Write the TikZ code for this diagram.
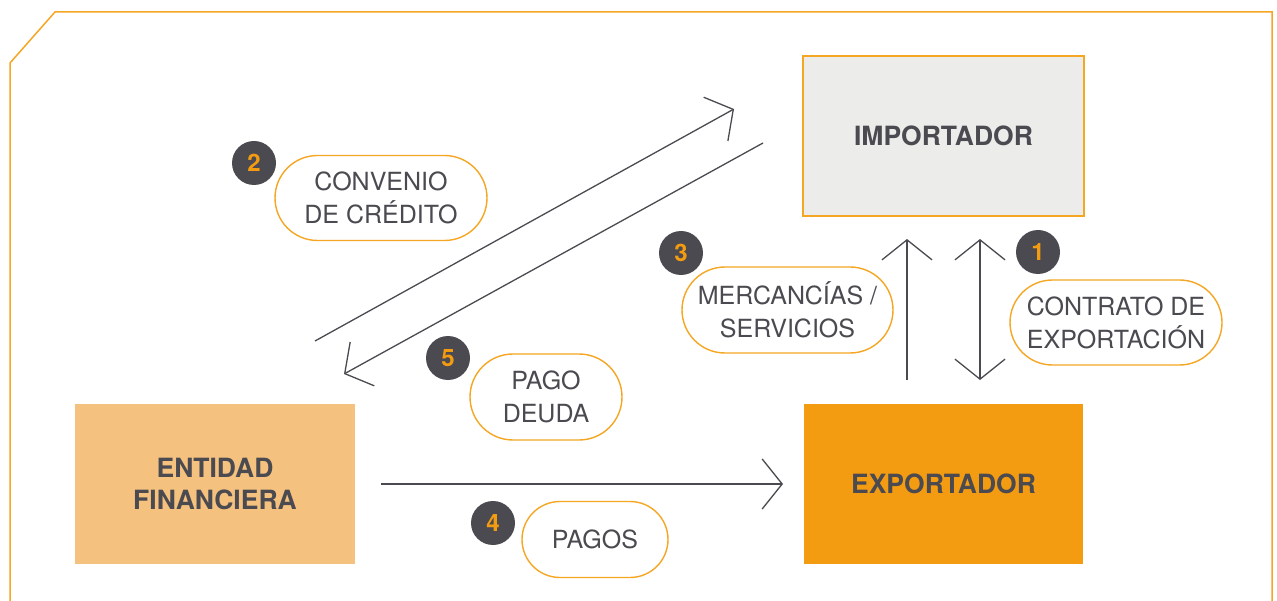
\documentclass[tikz,border=0pt]{standalone}
\usepackage{fontspec}
\setmainfont{TeX Gyre Heros}
\usetikzlibrary{arrows.meta, shapes.misc}
\definecolor{Orange}{HTML}{F39C12}
\definecolor{LOrange}{HTML}{F4C27E}
\definecolor{LGray}{HTML}{ECECEA}
\definecolor{DGray}{HTML}{4A4A50}
\definecolor{Frame}{HTML}{F5A623}
\NewDocumentCommand{\Badge}{O{(0,0)} m m}{
    \node[badge] (#2) at #1 {#3};
}
\NewDocumentCommand{\Pill}{O{(0,0)} m m m m}{
    \node[pill, minimum width=#3, minimum height=#4] (#2) at #1 {#5};
}

\begin{document}
\begin{tikzpicture}[x=1pt, y=-1pt,
    box/.style={draw=none, minimum width=280pt, minimum height=160pt, inner sep=0pt,
        align=center, text=DGray, font=\fontsize{26.5}{32}\selectfont\bfseries},
    pill/.style={draw=Frame, line width=1.4pt, fill=white, rounded rectangle, inner sep=0pt,
        align=center, text=DGray, font=\fontsize{25}{33}\selectfont},
    badge/.style={circle, fill=DGray, minimum size=44pt, inner sep=0pt,
        text=Orange, font=\fontsize{24}{24}\selectfont\bfseries},
    flow/.style={DGray, line width=1.3pt, -{Straight Barb[length=20pt, width=50pt]}},
    twoway/.style={DGray, line width=1.3pt,
        {Straight Barb[length=20pt, width=50pt]}-{Straight Barb[length=20pt, width=50pt]}}]
\useasboundingbox (0,0) rectangle (1277,601);

\draw[Frame, line width=1.5pt] (10,601) -- (10,63) -- (55,12) -- (1272,12) -- (1272,601);

\node[box, fill=LGray, draw=Frame, line width=1.5pt, minimum width=281pt] (importador) at (943.5,136) {IMPORTADOR};
\node[box, fill=Orange, minimum width=279pt] (exportador) at (943.5,484) {EXPORTADOR};
\node[box, fill=LOrange] (entidad) at (215,484) {ENTIDAD\\FINANCIERA};

\coordinate (credito-tail) at (315,341);
\coordinate (credito-tip) at (734,109);
\coordinate (deuda-tail) at (763,143);
\coordinate (deuda-tip) at (344,374);
\coordinate (merc-tail) at (907,380);
\coordinate (merc-tip) at (907,239);
\coordinate (contrato-top) at (980,239);
\coordinate (contrato-bottom) at (980,380);
\coordinate (pagos-tail) at (381,484);
\coordinate (pagos-tip) at (783,484);

\draw[flow] (credito-tail) -- (credito-tip);
\draw[flow] (deuda-tail) -- (deuda-tip);
\draw[flow] (merc-tail) -- (merc-tip);
\draw[twoway] (contrato-top) -- (contrato-bottom);
\draw[flow] (pagos-tail) -- (pagos-tip);

\Pill[(381,198)]{convenio}{212pt}{85pt}{CONVENIO\\DE CRÉDITO}
\Pill[(787.5,310)]{mercancias}{211pt}{86pt}{MERCANCÍAS /\\SERVICIOS}
\Pill[(1116,322.5)]{contrato}{212pt}{85pt}{CONTRATO DE\\EXPORTACIÓN}
\Pill[(546,397)]{pagodeuda}{152pt}{86pt}{PAGO\\DEUDA}
\Pill[(595,539.5)]{pagos}{146pt}{76pt}{PAGOS}

\Badge[(1038,252)]{n1}{1}
\Badge[(254,163)]{n2}{2}
\Badge[(681,253)]{n3}{3}
\Badge[(493,523)]{n4}{4}
\Badge[(448,358)]{n5}{5}

\end{tikzpicture}
\end{document}
